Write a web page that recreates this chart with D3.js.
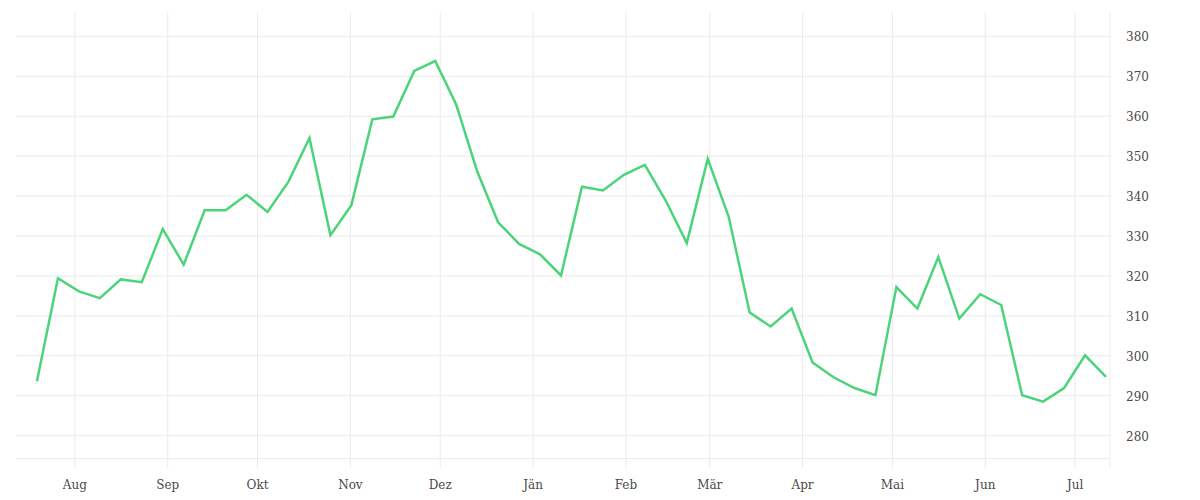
<!DOCTYPE html>
<html>
<head>
<meta charset="utf-8">
<script src="https://cdn.jsdelivr.net/npm/d3@7"></script>
<style>
  html, body { margin: 0; padding: 0; background: #fff; }
  svg { display: block; }
  .tick text { font-family: "DejaVu Serif", serif; font-size: 12px; fill: #4a4a4a; }
</style>
</head>
<body>
<svg id="chart" width="1200" height="500"></svg>
<script>
// ---- Data ----
const dates = [
  "2018-07-19","2018-07-26","2018-08-02","2018-08-09","2018-08-16","2018-08-23","2018-08-30",
  "2018-09-06","2018-09-13","2018-09-20","2018-09-27","2018-10-04","2018-10-11","2018-10-18",
  "2018-10-25","2018-11-01","2018-11-08","2018-11-15","2018-11-22","2018-11-29","2018-12-06",
  "2018-12-13","2018-12-20","2018-12-27","2019-01-03","2019-01-10","2019-01-17","2019-01-24",
  "2019-01-31","2019-02-07","2019-02-14","2019-02-21","2019-02-28","2019-03-07","2019-03-14",
  "2019-03-21","2019-03-28","2019-04-04","2019-04-11","2019-04-18","2019-04-25","2019-05-02",
  "2019-05-09","2019-05-16","2019-05-23","2019-05-30","2019-06-06","2019-06-13","2019-06-20",
  "2019-06-27","2019-07-04","2019-07-11"
];
const values = [
  293.5, 319.3, 316.0, 314.3, 319.0, 318.3, 331.6,
  322.7, 336.3, 336.3, 340.2, 335.9, 343.5, 354.4,
  330.1, 337.6, 359.1, 359.8, 371.2, 373.7, 362.8,
  346.1, 333.3, 327.9, 325.3, 320.0, 342.2, 341.3,
  345.2, 347.7, 338.7, 328.1, 349.2, 334.7, 310.7,
  307.2, 311.7, 298.2, 294.5, 291.8, 290.0, 317.1,
  311.7, 324.6, 309.2, 315.3, 312.6, 290.0, 288.4,
  291.8, 300.0, 294.6
];
const yTicks = [280, 290, 300, 310, 320, 330, 340, 350, 360, 370, 380];
const monthTicks = [
  "2018-08-01","2018-09-01","2018-10-01","2018-11-01","2018-12-01","2019-01-01",
  "2019-02-01","2019-03-01","2019-04-01","2019-05-01","2019-06-01","2019-07-01"
];
const monthLabels = ["Aug","Sep","Okt","Nov","Dez","Jän","Feb","Mär","Apr","Mai","Jun","Jul"];
const xDomain = ["2018-07-12T12:00:00", "2019-07-12T20:00:00"];
const yDomain = [274.1, 385.9];

// ---- Layout ----
const padL = 16, padR = 1110, padT = 12.3, padB = 458.7;
const parse = s => new Date(s + "T12:00:00");
const parseTick = s => new Date(s + "T00:00:00");

const data = dates.map((d, i) => ({ date: parse(d), value: values[i] }));

const x = d3.scaleTime().domain(xDomain.map(s => new Date(s))).range([padL, padR]);
const y = d3.scaleLinear().domain(yDomain).range([padB, padT]);

const svg = d3.select("#chart");
const gridColor = "#ebebeb";

// horizontal grid + y labels
svg.append("g")
  .attr("transform", `translate(${padR},0)`)
  .call(d3.axisRight(y).tickValues(yTicks).tickSize(-(padR - padL)).tickPadding(16).tickFormat(d3.format("d")))
  .call(g => g.select(".domain").remove())
  .call(g => g.selectAll(".tick line").attr("stroke", gridColor))
  .call(g => g.selectAll(".tick text").attr("text-anchor", "start").attr("dy", "0.42em"));

// bottom line
svg.append("line")
  .attr("x1", padL).attr("x2", padR)
  .attr("y1", padB).attr("y2", padB)
  .attr("stroke", gridColor);

// vertical grid + month labels
const tickDates = monthTicks.map(parseTick);
svg.append("g")
  .attr("transform", `translate(0,${padB + 9.5})`)
  .call(d3.axisBottom(x).tickValues(tickDates).tickSize(-(padB + 9.5 - padT)).tickPadding(12)
    .tickFormat((d, i) => monthLabels[i]))
  .call(g => g.select(".domain").remove())
  .call(g => g.selectAll(".tick line").attr("stroke", gridColor));

// right border line
svg.append("line")
  .attr("x1", padR).attr("x2", padR)
  .attr("y1", padT).attr("y2", padB + 9.5)
  .attr("stroke", gridColor);

// series line
const line = d3.line().x(d => x(d.date)).y(d => y(d.value));
svg.append("path")
  .datum(data)
  .attr("fill", "none")
  .attr("stroke", "#4cd47a")
  .attr("stroke-width", 2.5)
  .attr("stroke-linejoin", "miter")
  .attr("d", line);
</script>
</body>
</html>
